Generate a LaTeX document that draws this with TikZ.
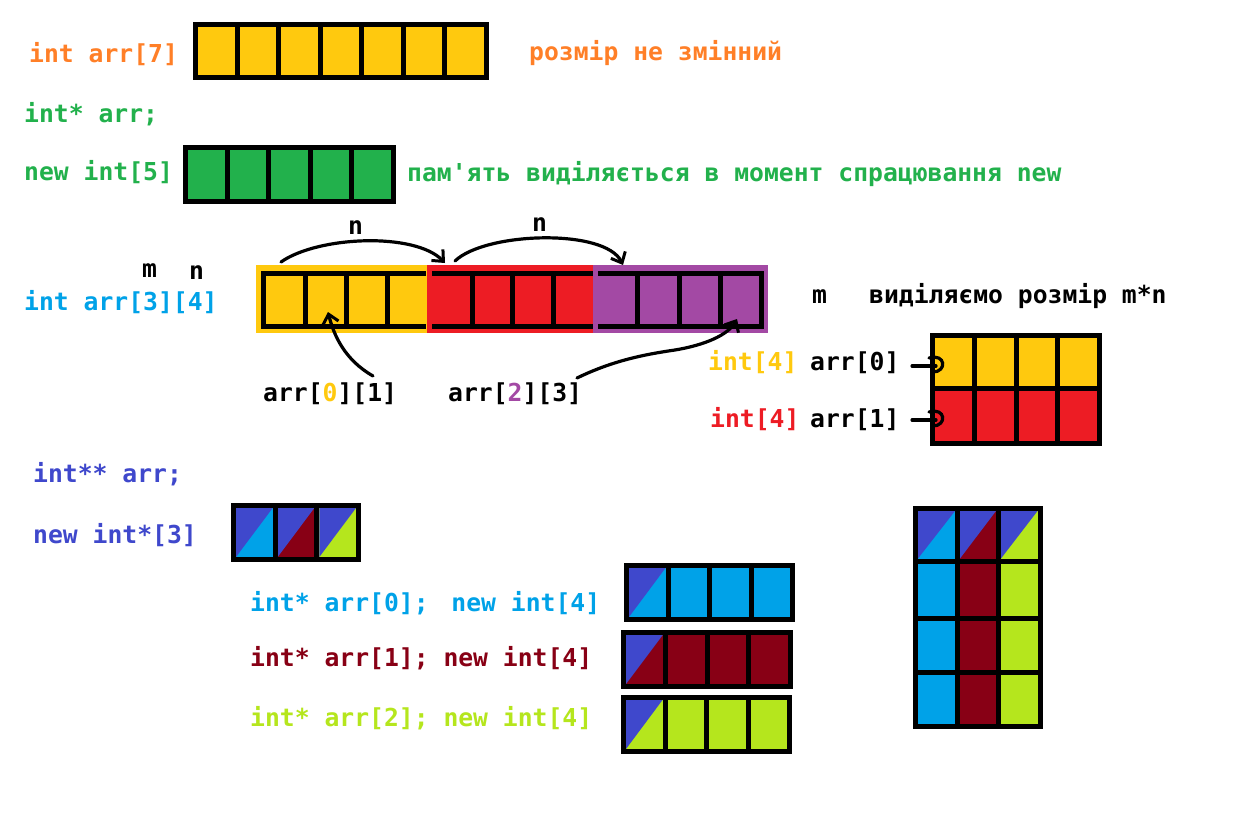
\documentclass[tikz,border=0pt]{standalone}
\usepackage{fontspec}
\setmonofont{DejaVu Sans Mono}
\usetikzlibrary{arrows.meta}
\definecolor{corange}{HTML}{FF7F27}
\definecolor{cyellow}{HTML}{FFC90E}
\definecolor{cgreen}{HTML}{22B14C}
\definecolor{cltblue}{HTML}{00A2E8}
\definecolor{cred}{HTML}{ED1C24}
\definecolor{cpurple}{HTML}{A349A4}
\definecolor{cblue}{HTML}{3F48CC}
\definecolor{cdred}{HTML}{880015}
\definecolor{clime}{HTML}{B5E61D}
\newcommand\code{\ttfamily\bfseries\fontsize{24.7}{29}\selectfont}
\newcommand\splitcell[5]{%
  \fill[#5] (#1,#2) rectangle (#3,#4);
  \fill[cblue] ({#1+2.5},{#4-2.5}) -- ({#1+2.5},{#2+2.5}) -- ({#3-2.5},{#2+2.5}) -- cycle;}
\tikzset{
  frame/.style={line width=5pt, draw=black},
  lbl/.style={inner sep=0pt, anchor=base west, font=\code},
  hand/.style={line width=3.2pt, line cap=round, line join=round, draw=black,
    -{Straight Barb[length=9pt,width=16pt,line width=3pt]}},
  hook/.style={line width=3.2pt, line cap=round, draw=black}
}
\begin{document}
\begin{tikzpicture}[x=1pt,y=-1pt]
\useasboundingbox (0,0) rectangle (1233,824);
\fill[white] (0,0) rectangle (1233,824);

% ---- int arr[7]
\fill[cyellow] (195.5,24.5) rectangle (486.5,77.5);
\foreach \i in {1,...,6} \draw[frame] ({195.5+\i*41.571},24.5) -- ++(0,53);
\draw[frame] (195.5,24.5) rectangle (486.5,77.5);
\node[lbl,text=corange] (t7) at (29,63) {int arr[7]};
\node[lbl,text=corange] (t7note) at (529,61) {розмір не змінний};

% ---- int* arr; new int[5]
\node[lbl,text=cgreen] (tptr) at (24,122) {int* arr;};
\node[lbl,text=cgreen] (tnew5) at (24,180) {new int[5]};
\fill[cgreen] (185.5,147.5) rectangle (393.5,201.5);
\foreach \i in {1,...,4} \draw[frame] ({185.5+\i*41.6},147.5) -- ++(0,54);
\draw[frame] (185.5,147.5) rectangle (393.5,201.5);
\node[lbl,text=cgreen] (tnote5) at (407,181) {пам'ять виділяється в момент спрацювання new};

% ---- int arr[3][4]
\node[lbl] (nA) at (348,234) {n};
\node[lbl] (nB) at (532,231) {n};
\node[lbl] (mlbl) at (142,277) {m};
\node[lbl] (nlbl) at (189,279) {n};
\node[lbl,text=cltblue] (t34) at (24,310) {int arr[3][4]};
\fill[cyellow] (256,265) rectangle (428,333);
\fill[cred] (427,265) rectangle (594,333);
\fill[cpurple] (593,265) rectangle (768,333);
\draw[frame] (426,273.5) -- (263.5,273.5) -- (263.5,326.5) -- (426,326.5);
\foreach \x in {305.5,346,387.5} \draw[frame] (\x,273.5) -- (\x,326.5);
\draw[frame] (432,273.5) -- (593,273.5);
\draw[frame] (432,326.5) -- (593,326.5);
\foreach \x in {472.5,512.5,553.5} \draw[frame] (\x,273.5) -- (\x,326.5);
\draw[frame] (598,273.5) -- (761,273.5) -- (761,326.5) -- (598,326.5);
\foreach \x in {637,679,720.5} \draw[frame] (\x,273.5) -- (\x,326.5);

\coordinate (c1s) at (281,262); \coordinate (c1e) at (445,263);
\draw[hand] (c1s) .. controls (318,236) and (415,232) .. (c1e);
\coordinate (c2s) at (455,261); \coordinate (c2e) at (623,265);
\draw[hand] (c2s) .. controls (485,232) and (605,228) .. (c2e);

\node[lbl] (a01) at (263,401) {arr[{\color{cyellow}0}][1]};
\node[lbl] (a23) at (448,401) {arr[{\color{cpurple}2}][3]};
\coordinate (c3s) at (373,376); \coordinate (c3e) at (328,312);
\draw[hand] (c3s) .. controls (345,360) and (334,336) .. (c3e);
\coordinate (c4s) at (577,378); \coordinate (c4m) at (675,350); \coordinate (c4e) at (737,319);
\draw[hand] (c4s) .. controls (610,362) and (640,355) .. (c4m) .. controls (705,345) and (728,335) .. (c4e);

% ---- right: m*n
\node[lbl] (mR) at (812,303) {m};
\node[lbl] (alloc) at (869,303) {виділяємо розмір m*n};
\node[lbl,text=cyellow] (i4a) at (708,370) {int[4]};
\node[lbl] (r0) at (810,370) {arr[0]};
\node[lbl,text=cred] (i4b) at (710,427) {int[4]};
\node[lbl] (r1) at (810,427) {arr[1]};
\fill[cyellow] (932.5,335.5) rectangle (1099.5,388.5);
\fill[cred] (932.5,388.5) rectangle (1099.5,443.5);
\draw[frame] (932.5,388.5) -- (1099.5,388.5);
\foreach \x in {974.5,1016,1057.5} \draw[frame] (\x,335.5) -- (\x,443.5);
\draw[frame] (932.5,335.5) rectangle (1099.5,443.5);
\coordinate (h0s) at (912,366); \coordinate (h0e) at (936,366);
\draw[hook] (h0s) -- (h0e);
\draw[hook] (929,358) .. controls (946,353) and (947,372) .. (933,372);
\coordinate (h1s) at (912,420); \coordinate (h1e) at (936,420);
\draw[hook] (h1s) -- (h1e);
\draw[hook] (929,412) .. controls (946,407) and (947,426) .. (933,426);

% ---- int** arr; new int*[3]
\node[lbl,text=cblue] (tpp) at (33,482) {int** arr;};
\node[lbl,text=cblue] (tnew3) at (33,543) {new int*[3]};
\splitcell{233.5}{505.5}{275.17}{559.5}{cltblue}
\splitcell{275.17}{505.5}{316.83}{559.5}{cdred}
\splitcell{316.83}{505.5}{358.5}{559.5}{clime}
\draw[frame] (275.17,505.5) -- (275.17,559.5);
\draw[frame] (316.83,505.5) -- (316.83,559.5);
\draw[frame] (233.5,505.5) rectangle (358.5,559.5);

% ---- rows
\node[lbl,text=cltblue] (l0) at (250,611) {int* arr[0]; \hspace{8pt}new int[4]};
\node[lbl,text=cdred] (l1) at (250,666) {int* arr[1]; new int[4]};
\node[lbl,text=clime] (l2) at (250,726) {int* arr[2]; new int[4]};

\fill[cltblue] (626.5,565.5) rectangle (792.5,619.5);
\splitcell{626.5}{565.5}{668}{619.5}{cltblue}
\foreach \x in {668,709.5,751} \draw[frame] (\x,565.5) -- (\x,619.5);
\draw[frame] (626.5,565.5) rectangle (792.5,619.5);

\fill[cdred] (623.5,632.5) rectangle (790.5,686.5);
\splitcell{623.5}{632.5}{665.25}{686.5}{cdred}
\foreach \x in {665.25,707,748.75} \draw[frame] (\x,632.5) -- (\x,686.5);
\draw[frame] (623.5,632.5) rectangle (790.5,686.5);

\fill[clime] (623.5,697.5) rectangle (789.5,751.5);
\splitcell{623.5}{697.5}{665}{751.5}{clime}
\foreach \x in {665,706.5,748} \draw[frame] (\x,697.5) -- (\x,751.5);
\draw[frame] (623.5,697.5) rectangle (789.5,751.5);

% ---- big matrix
\splitcell{915.5}{508.5}{957.5}{561}{cltblue}
\splitcell{957.5}{508.5}{998.5}{561}{cdred}
\splitcell{998.5}{508.5}{1040}{561}{clime}
\fill[cltblue] (915.5,561) rectangle (957.5,726);
\fill[cdred] (957.5,561) rectangle (998.5,726);
\fill[clime] (998.5,561) rectangle (1040,726);
\foreach \y in {561,618,672.5} \draw[frame] (915.5,\y) -- (1040,\y);
\foreach \x in {957.5,998.5} \draw[frame] (\x,508.5) -- (\x,726);
\draw[frame] (915.5,508.5) rectangle (1040,726);
\end{tikzpicture}
\end{document}
